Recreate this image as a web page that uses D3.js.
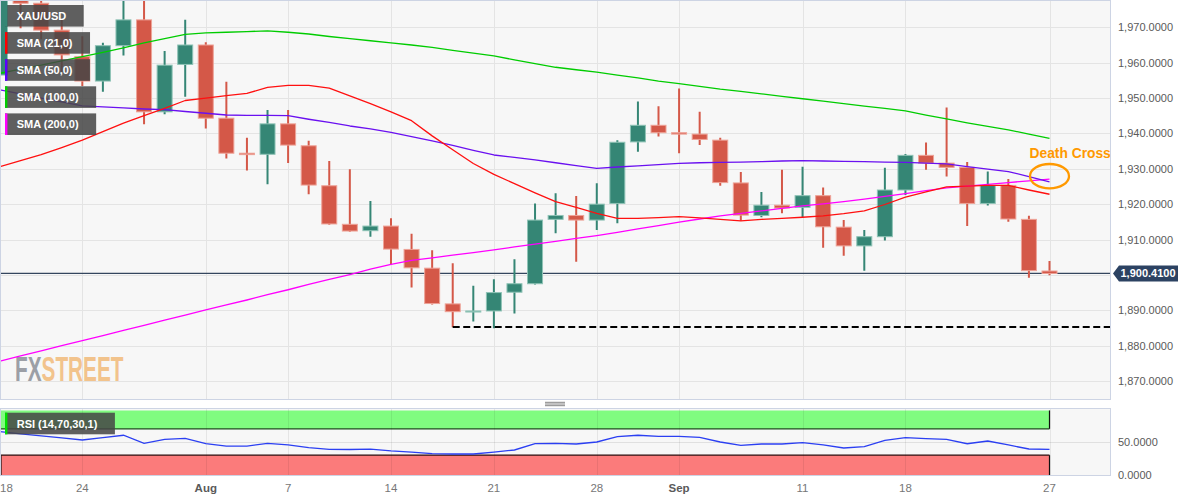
<!DOCTYPE html>
<html>
<head>
<meta charset="utf-8">
<script src="https://cdn.jsdelivr.net/npm/d3@7"></script>
<style>
  html, body { margin: 0; padding: 0; background: #ffffff; }
  svg { display: block; }
  text { font-family: "Liberation Sans", Arial, sans-serif; }
</style>
</head>
<body>
<svg id="chart" width="1194" height="501"></svg>
<script>
// ---------------- DATA ----------------
const dates = ["Jul 18","Jul 19","Jul 20","Jul 21","Jul 24","Jul 25","Jul 26","Jul 27","Jul 28","Jul 31",
  "Aug 1","Aug 2","Aug 3","Aug 4","Aug 7","Aug 8","Aug 9","Aug 10","Aug 11","Aug 14",
  "Aug 15","Aug 16","Aug 17","Aug 18","Aug 21","Aug 22","Aug 23","Aug 24","Aug 25","Aug 28",
  "Aug 29","Aug 30","Aug 31","Sep 1","Sep 4","Sep 5","Sep 6","Sep 7","Sep 8","Sep 11",
  "Sep 12","Sep 13","Sep 14","Sep 15","Sep 18","Sep 19","Sep 20","Sep 21","Sep 22","Sep 25",
  "Sep 26","Sep 27"];
const open = [1956.5,1978.7,1976.8,1969.2,1961.7,1954.8,1964.8,1972.1,1946.1,1959.5,
  1965.0,1944.3,1934.4,1934.1,1942.7,1936.5,1925.2,1914.3,1912.5,1913.8,
  1907.2,1901.9,1891.8,1889.5,1889.8,1895.1,1897.5,1915.7,1916.8,1915.5,
  1920.2,1937.6,1942.3,1940.2,1939.8,1938.1,1926.0,1916.8,1919.7,1919.1,
  1922.4,1913.5,1908.2,1910.8,1924.0,1933.8,1931.6,1930.4,1920.2,1925.3,
  1915.7,1901.1];
const high = [1984.0,1987.4,1987.4,1972.1,1967.5,1965.6,1979.0,1982.5,1963.3,1972.1,
  1965.8,1954.6,1938.8,1946.6,1946.6,1937.9,1932.2,1929.9,1920.9,1916.0,
  1911.6,1907.0,1903.3,1896.9,1898.8,1904.4,1920.2,1923.1,1922.3,1925.9,
  1938.1,1949.0,1947.7,1952.7,1946.1,1938.8,1929.1,1923.4,1929.7,1930.6,
  1924.7,1915.5,1912.7,1930.3,1934.2,1937.4,1947.3,1931.9,1929.2,1927.1,
  1916.7,1903.9];
const low = [1954.5,1969.7,1966.6,1957.4,1953.4,1951.8,1962.0,1942.6,1945.4,1950.4,
  1941.4,1932.9,1929.5,1925.6,1931.6,1922.8,1914.2,1912.2,1910.8,1903.1,
  1896.4,1891.6,1885.2,1886.8,1884.9,1889.1,1897.3,1911.8,1903.7,1912.7,
  1914.6,1934.8,1939.1,1934.4,1936.7,1925.2,1915.3,1916.3,1917.4,1916.3,
  1907.7,1905.4,1901.2,1909.7,1922.6,1929.7,1927.8,1913.8,1919.6,1915.0,
  1899.2,1899.9];
const close = [1978.7,1976.8,1969.2,1962.2,1954.8,1964.8,1972.1,1946.1,1959.3,1965.0,
  1944.3,1934.4,1934.0,1942.7,1936.7,1925.4,1914.4,1912.4,1913.8,1907.3,
  1902.0,1891.9,1889.6,1889.8,1895.0,1897.5,1915.5,1916.8,1915.5,1920.0,
  1937.5,1942.3,1940.2,1939.8,1938.3,1926.1,1916.9,1919.7,1918.9,1922.4,
  1913.6,1908.2,1910.8,1924.0,1933.8,1931.6,1930.4,1920.2,1925.3,1915.8,
  1901.2,1900.4];

const sma21 = [1930.6,1932.3,1934.0,1936.0,1938.1,1940.5,1942.9,1945.0,1947.1,1949.3,
  1950.0,1950.7,1951.3,1953.0,1953.6,1953.6,1952.8,1950.6,1948.4,1946.1,
  1943.6,1939.3,1935.4,1931.5,1928.4,1925.8,1923.2,1920.7,1919.1,1917.4,
  1916.0,1916.0,1916.2,1916.5,1916.1,1915.7,1915.3,1915.7,1916.0,1916.3,
  1916.7,1917.3,1918.1,1919.9,1922.0,1923.5,1924.9,1925.1,1925.3,1925.3,
  1924.0,1922.8];
const sma50 = [1952.3,1951.2,1950.0,1948.9,1947.8,1947.5,1947.2,1946.9,1946.7,1946.2,
  1945.7,1945.2,1945.1,1945.1,1945.0,1944.0,1943.1,1942.1,1941.3,1940.3,
  1939.1,1937.9,1936.6,1935.2,1933.9,1933.2,1932.5,1931.7,1930.9,1930.1,
  1930.5,1930.8,1931.2,1931.5,1931.7,1931.8,1931.9,1932.0,1932.2,1932.3,
  1932.2,1932.1,1932.0,1931.9,1931.8,1931.6,1931.4,1930.6,1929.9,1929.2,
  1927.8,1926.3];
const sma100 = [1957.0,1958.2,1959.3,1960.5,1961.7,1962.9,1964.2,1965.6,1966.8,1968.0,
  1968.4,1968.6,1968.8,1969.0,1968.6,1968.1,1967.4,1966.8,1966.2,1965.6,
  1965.0,1964.3,1963.5,1962.7,1961.9,1960.8,1959.7,1958.7,1958.0,1957.3,
  1956.5,1955.7,1954.8,1954.1,1953.3,1952.5,1951.9,1951.2,1950.5,1949.8,
  1949.1,1948.4,1947.7,1947.1,1946.4,1945.2,1944.1,1943.0,1942.0,1941.0,
  1939.8,1938.6];
const sma200 = [1875.6,1877.1,1878.5,1880.0,1881.4,1882.8,1884.3,1885.7,1887.2,1888.6,
  1890.1,1891.5,1892.9,1894.4,1895.8,1897.3,1898.7,1900.1,1901.6,1903.0,
  1904.1,1904.8,1905.6,1906.3,1907.1,1907.9,1908.7,1909.5,1910.3,1911.1,
  1912.0,1913.0,1913.9,1914.9,1915.8,1916.7,1917.4,1918.1,1918.8,1919.5,
  1920.1,1920.7,1921.4,1922.2,1923.0,1923.8,1924.6,1925.1,1925.6,1926.1,
  1926.6,1927.1];
const rsi = [65.6,62.4,59.2,56.1,53.0,56.7,60.2,48.0,54.1,55.6,
  47.4,43.9,43.9,48.0,45.5,41.4,38.9,38.6,39.1,36.4,
  34.8,32.4,31.8,31.8,34.8,37.9,47.4,48.0,47.0,50.0,
  58.0,60.2,58.6,58.6,57.1,50.0,45.0,47.0,47.0,48.9,
  45.5,40.9,42.9,52.6,56.5,55.0,54.1,47.4,51.5,45.5,
  39.4,38.9];

const priceTicks = [1870,1880,1890,1900,1910,1920,1930,1940,1950,1960,1970];
const xTickIdx = [0,4,10,14,19,24,29,33,39,44,51];
const xTickLabels = ["18","24","Aug","7","14","21","28","Sep","11","18","27"];
const monthLabels = ["Aug","Sep"];
const lastPrice = 1900.41;
const supportLevel = 1885.3;
const supportStartIdx = 22;
const deathCrossIdx = 51;
const deathCrossPrice = 1927.9;
const rsiTicks = [0,50];
const rsiBands = {upper: 70, lower: 30};
const legendItems = [
  {label:"XAU/USD", color:"#358675"},
  {label:"SMA (21,0)", color:"#ff0000"},
  {label:"SMA (50,0)", color:"#5a00ff"},
  {label:"SMA (100,0)", color:"#00cc00"},
  {label:"SMA (200,0)", color:"#ff00ff"}
];

// ---------------- LAYOUT ----------------
const svg = d3.select("#chart");
const W = 1194, H = 501;
const plotR = 1110.5;
const main = {top: 0.5, bottom: 399.5};
const rsiP = {top: 408.5, bottom: 475.5};
const font = '"Liberation Sans", Arial, sans-serif';

const x = d3.scaleLinear().domain([0, dates.length - 1]).range([0, 1049.5]);
const y = d3.scaleLinear().domain([1870, 1970]).range([381, 27.3]);
const yr = d3.scaleLinear().domain([0, 100]).range([475, 409]);

const UP = "#358675", UP_S = "#8fc3b6", DN = "#d45848", DN_S = "#eea398";

svg.append("rect").attr("width", W).attr("height", H).attr("fill", "#ffffff");

const defs = svg.append("defs");
defs.append("clipPath").attr("id", "clipMain").append("rect")
  .attr("x", 0.5).attr("y", main.top).attr("width", plotR - 0.5).attr("height", main.bottom - main.top);
defs.append("clipPath").attr("id", "clipRsi").append("rect")
  .attr("x", 0.5).attr("y", rsiP.top).attr("width", plotR - 0.5).attr("height", rsiP.bottom - rsiP.top);

// ---------------- MAIN PANEL ----------------
svg.append("rect").attr("x", 0.5).attr("y", main.top).attr("width", plotR - 0.5)
  .attr("height", main.bottom - main.top).attr("fill", "#f7f7f7");

const g = svg.append("g").attr("clip-path", "url(#clipMain)");

// gridlines
g.selectAll("line.hg").data(priceTicks).join("line")
  .attr("x1", 0).attr("x2", plotR).attr("y1", d => Math.round(y(d)) + 0.5).attr("y2", d => Math.round(y(d)) + 0.5)
  .attr("stroke", "#e4e4e4").attr("stroke-width", 1);
g.selectAll("line.vg").data(xTickIdx).join("line")
  .attr("x1", d => Math.round(x(d)) + 0.5).attr("x2", d => Math.round(x(d)) + 0.5)
  .attr("y1", main.top).attr("y2", main.bottom)
  .attr("stroke", "#e4e4e4").attr("stroke-width", 1);

// watermark: one text element, scaled horizontally to fit
const wmText = g.append("text")
  .attr("font-family", '"DejaVu Sans Condensed", "DejaVu Sans", sans-serif').attr("font-weight", "bold")
  .attr("font-size", 36);
wmText.append("tspan").text("FX").attr("fill", "#9c9fa6");
wmText.append("tspan").text("STREET").attr("fill", "#f2c38c");
const wmW = wmText.node().getComputedTextLength();
wmText.attr("transform", `translate(15,380.5) scale(${108.5 / wmW},1)`);

// last price line
g.append("line").attr("x1", 0).attr("x2", plotR)
  .attr("y1", y(lastPrice)).attr("y2", y(lastPrice))
  .attr("stroke", "#34465e").attr("stroke-width", 1.2);

// candles
const idx = d3.range(dates.length);
const cg = g.append("g");
cg.selectAll("line.wick").data(idx).join("line")
  .attr("x1", i => x(i)).attr("x2", i => x(i))
  .attr("y1", i => y(high[i])).attr("y2", i => y(low[i]))
  .attr("stroke", i => close[i] >= open[i] ? UP : DN).attr("stroke-width", 2);
cg.selectAll("rect.body").data(idx).join("rect")
  .attr("x", i => x(i) - 7.5).attr("width", 15)
  .attr("y", i => y(Math.max(open[i], close[i])))
  .attr("height", i => Math.max(0.8, Math.abs(y(open[i]) - y(close[i]))))
  .attr("fill", i => close[i] >= open[i] ? UP : DN)
  .attr("stroke", i => close[i] >= open[i] ? UP_S : DN_S).attr("stroke-width", 1);

// SMA lines
const lineGen = arr => d3.line().x((d, i) => x(i)).y(d => y(d))(arr);
[[sma200, "#ff00ff"], [sma100, "#00cc00"], [sma50, "#6a10f0"], [sma21, "#ff1010"]].forEach(([arr, col]) => {
  g.append("path").attr("d", lineGen(arr)).attr("fill", "none")
    .attr("stroke", col).attr("stroke-width", 1.3).attr("stroke-linejoin", "round");
});

// support dashed line
g.append("line").attr("x1", x(supportStartIdx)).attr("x2", plotR)
  .attr("y1", y(supportLevel)).attr("y2", y(supportLevel))
  .attr("stroke", "#000").attr("stroke-width", 2).attr("stroke-dasharray", "7,3.5");

// death cross annotation
g.append("ellipse").attr("cx", x(deathCrossIdx)).attr("cy", y(deathCrossPrice))
  .attr("rx", 19.5).attr("ry", 12.2).attr("fill", "none")
  .attr("stroke", "#ff9900").attr("stroke-width", 2.3);
g.append("text").attr("x", x(deathCrossIdx) - 20).attr("y", y(deathCrossPrice) - 18)
  .text("Death Cross").attr("font-family", font).attr("font-weight", "bold")
  .attr("font-size", 13.8).attr("fill", "#ff9900");

// border
svg.append("rect").attr("x", 0.5).attr("y", main.top).attr("width", plotR - 0.5)
  .attr("height", main.bottom - main.top).attr("fill", "none").attr("stroke", "#cdd4e4");

// legend
function legendBox(gSel, label, col, bx, by) {
  const grp = gSel.append("g");
  const rect = grp.append("rect").attr("x", bx).attr("y", by).attr("height", 21.6)
    .attr("fill", "#464646").attr("fill-opacity", 0.86);
  grp.append("rect").attr("x", bx).attr("y", by).attr("width", 2.4).attr("height", 21.6).attr("fill", col);
  const t = grp.append("text").attr("x", 16.7).attr("y", by + 14.8).text(label)
    .attr("font-family", font).attr("font-weight", "bold").attr("font-size", 11).attr("fill", "#ffffff");
  const w = t.node().getComputedTextLength();
  rect.attr("width", 16.7 + w + 17.5 - bx);
}
const lg = svg.append("g");
legendItems.forEach((d, k) => legendBox(lg, d.label, d.color, 5, 5 + k * 27.1));

// y axis labels
svg.selectAll("text.yl").data(priceTicks.filter(d => d !== 1900)).join("text")
  .attr("x", 1118).attr("y", d => y(d) + 4).text(d => d3.format(",.4f")(d))
  .attr("font-family", font).attr("font-size", 11).attr("fill", "#5a5a5a");

// price tag
const py = y(lastPrice);
svg.append("path")
  .attr("d", `M1113,${py} L1119,${py - 8} L1178,${py - 8} L1178,${py + 8} L1119,${py + 8} Z`)
  .attr("fill", "#2c4262");
svg.append("text").attr("x", 1120.5).attr("y", py + 4).text(d3.format(",.4f")(lastPrice))
  .attr("font-family", font).attr("font-weight", "bold").attr("font-size", 11).attr("fill", "#ffffff");

// divider handle
[402.3, 404, 405.7].forEach(hy => {
  svg.append("line").attr("x1", 545).attr("x2", 565).attr("y1", hy).attr("y2", hy)
    .attr("stroke", "#777").attr("stroke-width", 0.9);
});

// ---------------- RSI PANEL ----------------
svg.append("rect").attr("x", 0.5).attr("y", rsiP.top).attr("width", plotR - 0.5)
  .attr("height", rsiP.bottom - rsiP.top).attr("fill", "#f7f7f7");
const rg = svg.append("g").attr("clip-path", "url(#clipRsi)");
const bandEnd = x(dates.length - 1);
// upper band
rg.append("rect").attr("x", 0.5).attr("y", yr(100) + 1.5).attr("width", bandEnd)
  .attr("height", yr(rsiBands.upper) - yr(100) - 1.5).attr("fill", "#80fc80");
rg.append("line").attr("x1", 0).attr("x2", bandEnd).attr("y1", yr(rsiBands.upper)).attr("y2", yr(rsiBands.upper))
  .attr("stroke", "#1d4d1d").attr("stroke-width", 1.2);
rg.append("line").attr("x1", bandEnd).attr("x2", bandEnd).attr("y1", yr(100) + 1.5).attr("y2", yr(rsiBands.upper))
  .attr("stroke", "#111").attr("stroke-width", 1.2);
// lower band
rg.append("rect").attr("x", 0.5).attr("y", yr(rsiBands.lower)).attr("width", bandEnd)
  .attr("height", yr(0) - yr(rsiBands.lower)).attr("fill", "#fb7b7b");
rg.append("line").attr("x1", 0).attr("x2", bandEnd).attr("y1", yr(rsiBands.lower)).attr("y2", yr(rsiBands.lower))
  .attr("stroke", "#2a0a0a").attr("stroke-width", 1.2);
rg.append("line").attr("x1", bandEnd).attr("x2", bandEnd).attr("y1", yr(rsiBands.lower)).attr("y2", yr(0))
  .attr("stroke", "#111").attr("stroke-width", 1.2);
rg.append("line").attr("x1", 1).attr("x2", 1).attr("y1", yr(rsiBands.lower)).attr("y2", yr(0))
  .attr("stroke", "#111").attr("stroke-width", 1.2);
// gridlines
rg.append("line").attr("x1", 0).attr("x2", plotR).attr("y1", Math.round(yr(50)) + 0.5).attr("y2", Math.round(yr(50)) + 0.5)
  .attr("stroke", "#e0e0e0");
rg.selectAll("line.rvg").data(xTickIdx).join("line")
  .attr("x1", d => Math.round(x(d)) + 0.5).attr("x2", d => Math.round(x(d)) + 0.5)
  .attr("y1", rsiP.top).attr("y2", rsiP.bottom)
  .attr("stroke", "rgba(0,0,0,0.07)");
// rsi line
rg.append("path").attr("d", d3.line().x((d, i) => x(i)).y(d => yr(d))(rsi))
  .attr("fill", "none").attr("stroke", "#2b3ff2").attr("stroke-width", 1.3);
svg.append("rect").attr("x", 0.5).attr("y", rsiP.top).attr("width", plotR - 0.5)
  .attr("height", rsiP.bottom - rsiP.top).attr("fill", "none").attr("stroke", "#cdd4e4");
legendBox(svg, "RSI (14,70,30,1)", "#00e000", 5, 412.7);

svg.selectAll("text.ryl").data(rsiTicks).join("text")
  .attr("x", 1118).attr("y", d => yr(d) + 4).text(d => d3.format(".4f")(d))
  .attr("font-family", font).attr("font-size", 11).attr("fill", "#5a5a5a");

// ---------------- X AXIS ----------------
const xl = svg.selectAll("text.xl").data(xTickIdx).join("text")
  .attr("y", 492).text((d, k) => xTickLabels[k])
  .attr("font-family", font).attr("font-size", 11.5)
  .attr("font-weight", (d, k) => monthLabels.includes(xTickLabels[k]) ? "bold" : "normal")
  .attr("fill", (d, k) => monthLabels.includes(xTickLabels[k]) ? "#5a5a5a" : "#777777");
xl.each(function(d) {
  const w = this.getComputedTextLength();
  let left = x(d) - w / 2;
  if (left < 0) left = 0;
  d3.select(this).attr("x", left);
});
</script>
</body>
</html>
